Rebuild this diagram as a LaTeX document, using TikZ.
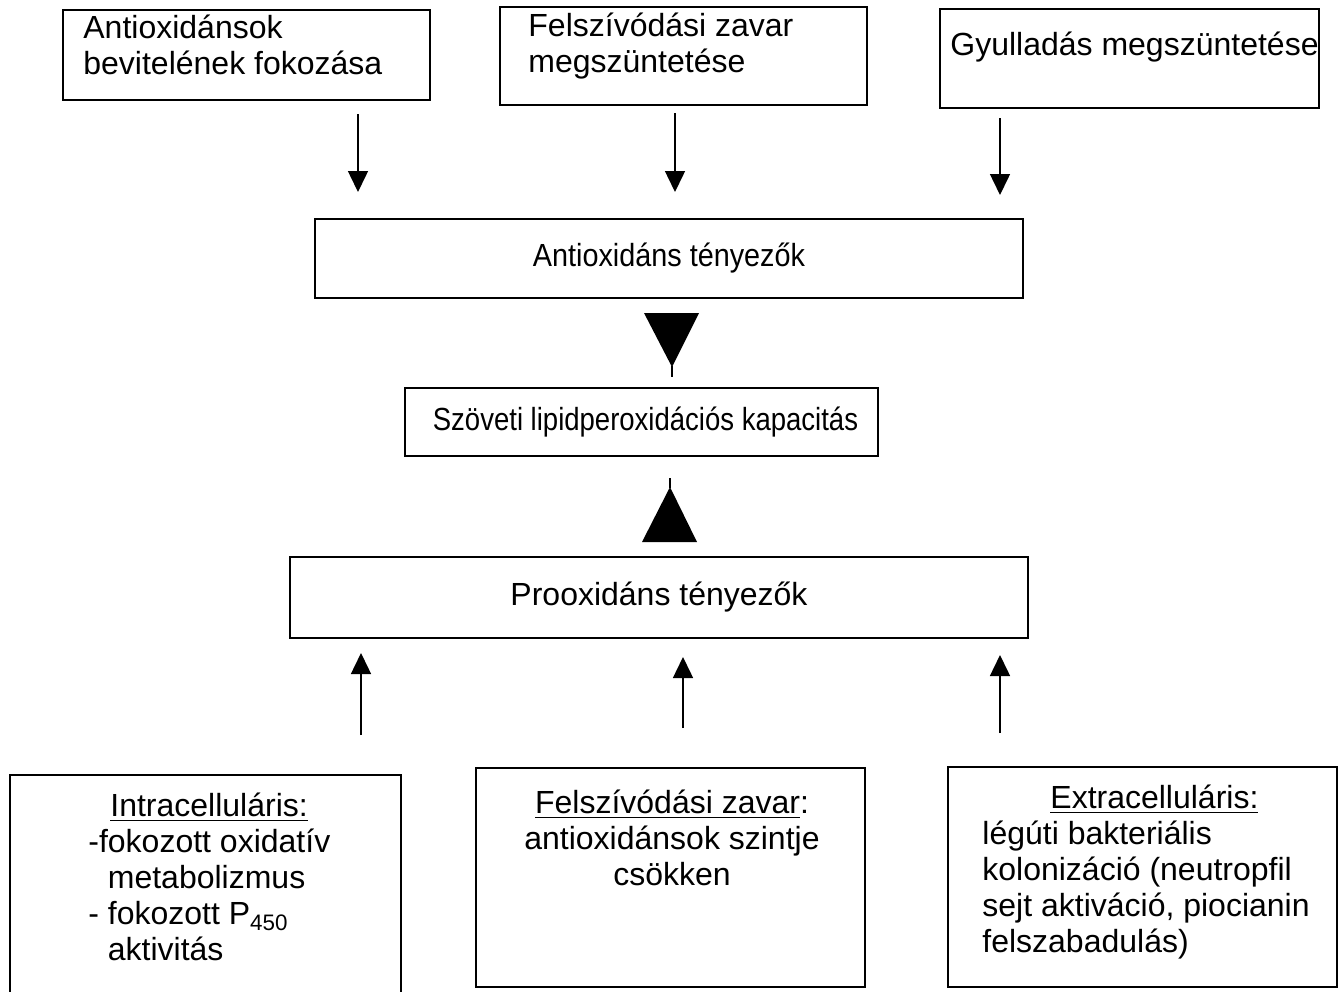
\documentclass[tikz,border=0pt]{standalone}
\usepackage{fontspec}
\setmainfont{Liberation Sans}
\newfontfamily\condfont[FakeStretch=0.9]{Liberation Sans}
\newfontfamily\narrowfont[FakeStretch=0.86]{Liberation Sans}
\usetikzlibrary{arrows.meta,fit}

\tikzset{
    box/.style={draw, line width=1pt, inner sep=0pt},
    txt/.style={inner sep=0pt, align=left},
    mid/.style={inner sep=0pt, font={\condfont\fontsize{16}{18}\selectfont}},
    arr/.style={-{Triangle[width=10pt,length=10.5pt]}, line width=0.75pt},
}

\begin{document}
\begin{tikzpicture}[x=0.5pt,y=-0.5pt,font={\fontsize{16}{18}\selectfont}]
        \useasboundingbox (0,0) rectangle (1343,991);

        \node[box, fit={(63,10) (430,100)}] (bevitel) {};
        \node[txt, anchor=north west] (beviteltxt) at (83,15) {Antioxidánsok\\bevitelének fokozása};
        \node[box, fit={(500,7) (867,105)}] (felszivas) {};
        \node[txt, anchor=north west] (felszivastxt) at (528,13) {Felszívódási zavar\\megszüntetése};
        \node[box, fit={(940,9) (1319,108)}] (gyulladas) {};
        \node[txt, anchor=base west] (gyulladastxt) at (950,55) {Gyulladás megszüntetése};

        \coordinate (le1) at (358,114);
        \coordinate (le1v) at (358,192);
        \coordinate (le2) at (675,113);
        \coordinate (le2v) at (675,192);
        \coordinate (le3) at (1000,118);
        \coordinate (le3v) at (1000,195);
        \draw[arr] (le1) -- (le1v);
        \draw[arr] (le2) -- (le2v);
        \draw[arr] (le3) -- (le3v);

        \node[box, fit={(315,219) (1023,298)}] (anti) {};
        \node[mid] (antitxt) at (anti.center) {Antioxidáns tényezők};

        \fill (644,313) -- (699,313) -- (672,367) -- cycle;
        \draw[line width=0.75pt] (672,366) -- (672,377);

        \node[box, fit={(405,388) (878,456)}] (lipid) {};
        \node[mid, font={\narrowfont\fontsize{16}{18}\selectfont}] (lipidtxt) at ([xshift=2]lipid.center) {Szöveti lipidperoxidációs kapacitás};

        \fill (642,542) -- (697,542) -- (670,487) -- cycle;
        \draw[line width=0.75pt] (670,478) -- (670,488);

        \node[box, fit={(290,557) (1028,638)}] (pro) {};
        \node[mid, font={\fontsize{16}{18}\selectfont}] (protxt) at (pro.center) {Prooxidáns tényezők};

        \coordinate (fel1) at (361,735);
        \coordinate (fel1v) at (361,653);
        \coordinate (fel2) at (683,728);
        \coordinate (fel2v) at (683,657);
        \coordinate (fel3) at (1000,733);
        \coordinate (fel3v) at (1000,655);
        \draw[arr] (fel1) -- (fel1v);
        \draw[arr] (fel2) -- (fel2v);
        \draw[arr] (fel3) -- (fel3v);

        \begin{scope}
            \clip (0,0) rectangle (1343,991);
            \node[box, fit={(10,775) (401,1010)}] (intra) {};
        \end{scope}
        \node[txt, anchor=north west] (intratxt) at (88,793) {\hspace*{11pt}\underline{Intracelluláris:}\\-fokozott oxidatív\\\hspace*{9.75pt}metabolizmus\\- fokozott P\textsubscript{450}\\\hspace*{9.75pt}aktivitás};

        \node[box, fit={(476,768) (865,987)}] (zavar) {};
        \node[txt, align=center, anchor=north] (zavartxt) at (672,790) {\underline{Felszívódási zavar}:\\antioxidánsok szintje\\csökken};

        \node[box, fit={(948,767) (1337,987)}] (extra) {};
        \node[txt, anchor=north west] (extratxt) at (982,785) {\hspace*{34pt}\underline{Extracelluláris:}\\légúti bakteriális\\kolonizáció (neutropfil\\sejt aktiváció, piocianin\\felszabadulás)};
    \end{tikzpicture}
\end{document}
